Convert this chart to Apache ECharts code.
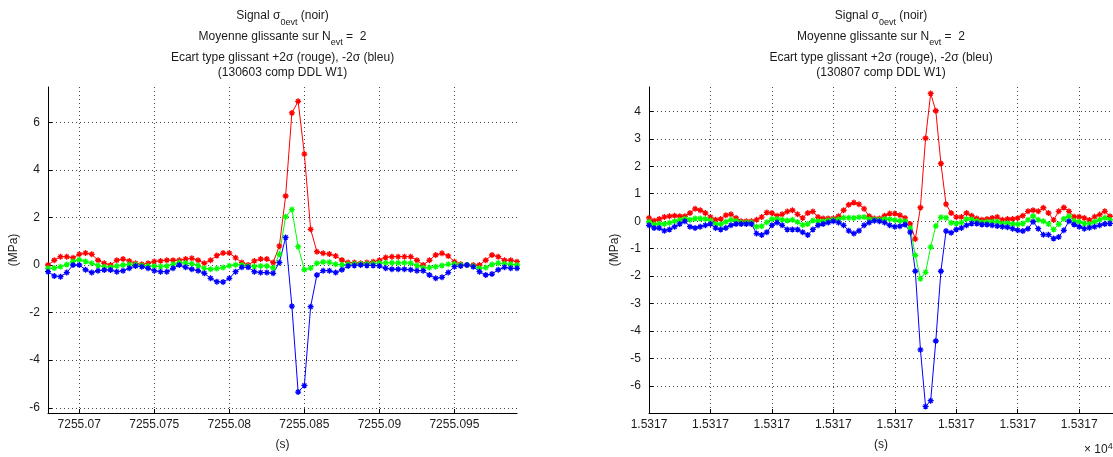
<!DOCTYPE html>
<html><head><meta charset="utf-8">
<script src="https://cdn.jsdelivr.net/npm/echarts@6/dist/echarts.min.js"></script>
<style>html,body{margin:0;padding:0;background:#fff}#c{width:1113px;height:457px}</style>
</head><body><div id="c"></div>
<script>
// ---------------- data ----------------
const sampleDt = 1 / 2400;            // sampling step (s)
const leftT0 = 7255.06792;            // first sample time, left panel (s)
const rightT0 = 15317.0;              // first sample time, right panel (s)

const leftRed = [0.0,0.2,0.35,0.35,0.3,0.45,0.5,0.45,0.2,0.07,
  0.0,0.2,0.25,0.17,0.07,0.03,0.07,0.15,0.17,0.2,
  0.2,0.2,0.25,0.28,0.2,0.07,0.2,0.4,0.5,0.5,
  0.3,0.1,0.0,0.17,0.25,0.25,0.1,0.8,2.9,6.39,
  6.88,4.66,1.5,0.56,0.49,0.46,0.38,0.21,0.1,0.1,
  0.07,0.1,0.14,0.2,0.32,0.35,0.35,0.35,0.35,0.2,
  0.0,0.2,0.42,0.49,0.38,0.14,0.03,0.0,0.0,0.0,
  0.2,0.42,0.35,0.2,0.2,0.14];
const leftGreen = [-0.14,-0.13,-0.07,0.02,0.15,0.22,0.15,0.07,-0.02,-0.07,
  -0.1,-0.04,0.0,0.02,0.02,-0.02,-0.04,-0.05,-0.06,-0.04,
  0.03,0.1,0.08,0.05,-0.02,-0.14,-0.18,-0.15,-0.11,-0.03,
  0.01,0.0,-0.05,-0.06,-0.04,-0.04,-0.13,0.45,2.03,2.33,
  0.77,-0.2,-0.13,0.07,0.13,0.11,0.03,0.01,0.03,0.04,
  0.04,0.04,0.06,0.08,0.09,0.09,0.09,0.09,0.08,-0.02,
  -0.12,-0.11,-0.07,-0.02,0.03,0.04,0.0,0.0,-0.04,-0.14,
  -0.11,0.02,0.08,0.05,0.03,0.0];
const leftBlue = [-0.28,-0.46,-0.49,-0.32,0.0,0.0,-0.2,-0.32,-0.24,-0.21,
  -0.21,-0.28,-0.24,-0.14,-0.04,-0.07,-0.14,-0.24,-0.28,-0.28,
  -0.14,0.0,-0.1,-0.18,-0.24,-0.35,-0.56,-0.7,-0.72,-0.56,
  -0.28,-0.1,-0.1,-0.28,-0.32,-0.32,-0.35,0.1,1.16,-1.73,
  -5.34,-5.06,-1.75,-0.42,-0.24,-0.24,-0.32,-0.2,-0.04,-0.02,
  0.0,-0.02,-0.02,-0.04,-0.14,-0.18,-0.18,-0.18,-0.2,-0.24,
  -0.24,-0.42,-0.56,-0.52,-0.32,-0.07,-0.04,0.0,-0.07,-0.28,
  -0.42,-0.38,-0.2,-0.1,-0.14,-0.14];

const rightRed = [0.12,0.02,0.08,0.15,0.18,0.2,0.18,0.18,0.3,0.45,
  0.4,0.3,0.15,0.05,0.08,0.22,0.25,0.12,0.0,0.0,
  0.0,0.05,0.15,0.32,0.3,0.2,0.25,0.35,0.4,0.25,
  0.12,0.3,0.35,0.15,0.1,0.1,0.1,0.18,0.4,0.6,
  0.68,0.62,0.45,0.18,0.1,0.1,0.2,0.28,0.28,0.22,
  0.12,-0.1,-0.65,0.5,3.02,4.65,4.02,2.1,0.62,0.3,
  0.15,0.15,0.3,0.2,0.1,0.05,0.08,0.12,0.15,0.05,
  0.08,0.08,0.12,0.2,0.36,0.4,0.36,0.49,0.3,0.04,
  0.36,0.5,0.36,0.16,0.16,0.12,0.04,0.16,0.24,0.36,
  0.18];
const rightGreen = [-0.02,-0.12,-0.09,-0.1,-0.06,0.0,0.04,0.09,0.05,0.1,
  0.1,0.08,0.03,-0.1,-0.11,-0.02,0.05,0.01,-0.05,-0.05,
  -0.05,-0.2,-0.18,-0.04,0.08,0.08,0.05,0.03,0.05,-0.03,
  -0.14,-0.1,0.03,0.0,0.0,0.03,0.05,0.07,0.13,0.13,
  0.12,0.14,0.15,0.07,0.06,0.05,0.08,0.07,0.04,0.02,
  0.0,-0.25,-1.24,-2.09,-1.86,-0.94,-0.17,0.14,0.13,-0.06,
  -0.08,-0.05,0.08,0.06,0.01,-0.04,-0.02,-0.02,-0.01,-0.08,
  -0.07,-0.1,-0.11,-0.08,0.05,0.19,0.05,0.0,-0.1,-0.3,
  -0.11,0.09,0.18,0.02,-0.02,-0.08,-0.1,-0.02,0.05,0.13,
  0.05];
const rightBlue = [-0.15,-0.25,-0.25,-0.35,-0.3,-0.2,-0.1,0.0,-0.2,-0.25,
  -0.2,-0.15,-0.1,-0.25,-0.3,-0.25,-0.15,-0.1,-0.1,-0.1,
  -0.1,-0.45,-0.5,-0.4,-0.15,-0.05,-0.15,-0.3,-0.3,-0.3,
  -0.4,-0.5,-0.3,-0.15,-0.1,-0.05,0.0,-0.05,-0.15,-0.35,
  -0.45,-0.35,-0.15,-0.05,0.02,0.0,-0.05,-0.15,-0.2,-0.18,
  -0.12,-0.4,-1.82,-4.68,-6.74,-6.53,-4.36,-1.82,-0.36,-0.42,
  -0.3,-0.25,-0.15,-0.08,-0.08,-0.12,-0.12,-0.15,-0.17,-0.2,
  -0.22,-0.27,-0.33,-0.36,-0.27,-0.02,-0.27,-0.49,-0.49,-0.63,
  -0.57,-0.33,0.0,-0.12,-0.2,-0.27,-0.24,-0.2,-0.15,-0.1,
  -0.08];

const titleLines = ['Signal σ{sub|0evt} (noir)', 'Moyenne glissante sur N{sub|evt} =  2',
  'Ecart type glissant +2σ (rouge), -2σ (bleu)'];
const leftId = '(130603 comp DDL W1)';
const rightId = '(130807 comp DDL W1)';
const yName = '(MPa)', xName = '(s)';

// ---------------- chart ----------------
const FONT = '"Liberation Sans", Arial, Helvetica, sans-serif';
const TXT = '#1a1a1a';
const L = {left: 48, right: 517, top: 87, bottom: 413};
const R = {left: 649, right: 1113, top: 87, bottom: 413};
const star = 'path://M5,0L5,10M0,5L10,5M1.6,1.6L8.4,8.4M8.4,1.6L1.6,8.4';

function pts(t0, arr) { return arr.map((v, i) => [t0 + i * sampleDt, v]); }

function mkSeries(xi, t0, r, g, b) {
  const cols = [['#ff0000', r], ['#00ff00', g], ['#0000ff', b]];
  return cols.map(([c, d]) => ({
    type: 'line', xAxisIndex: xi, yAxisIndex: xi, data: pts(t0, d),
    symbol: star, symbolSize: 6, showSymbol: true,
    lineStyle: {color: c, width: 1}, itemStyle: {color: c, borderColor: c, borderWidth: 1.3},
    animation: false, silent: true, clip: true
  }));
}

const axisCommon = {
  axisLine: {show: true, onZero: false, lineStyle: {color: '#000', width: 1}},
  axisTick: {show: true, inside: true, length: 4, lineStyle: {color: '#000'}},
  splitLine: {show: true, showMinLine: false, showMaxLine: false, lineStyle: {color: '#444', type: [1, 3], width: 1}},
  nameTextStyle: {color: TXT, fontSize: 12, fontFamily: FONT},
};
function lab(extra) { return Object.assign({color: TXT, fontSize: 12, fontFamily: FONT, showMinLabel: false, showMaxLabel: false}, extra); }

function titleGraphics(cx, idLine) {
  const ys = [16, 36.5, 58];
  const g = titleLines.map((t, k) => ({
    type: 'text', x: cx, y: ys[k], silent: true,
    style: {text: t, fill: TXT, font: '12px ' + FONT, align: 'center', verticalAlign: 'middle', lineHeight: 22,
      rich: {sub: {fontSize: 9, fontFamily: FONT, lineHeight: 22, verticalAlign: 'bottom', fill: TXT}}}
  }));
  g.push({type: 'text', x: cx, y: 73, silent: true,
    style: {text: idLine, fill: TXT, font: '12px ' + FONT, align: 'center', verticalAlign: 'middle'}});
  return g;
}

const chart = echarts.init(document.getElementById('c'), null, {renderer: 'canvas'});
chart.setOption({
  animation: false,
  backgroundColor: '#fff',
  grid: [
    {left: L.left, top: L.top, width: L.right - L.left, height: L.bottom - L.top, outerBoundsMode: 'none'},
    {left: R.left, top: R.top, width: R.right - R.left, height: R.bottom - R.top, outerBoundsMode: 'none'}
  ],
  xAxis: [
    Object.assign({}, axisCommon, {type: 'value', gridIndex: 0, min: leftT0, max: leftT0 + (leftRed.length - 1) * sampleDt,
      splitNumber: 6, name: xName, nameLocation: 'middle', nameGap: 26,
      axisLabel: lab({margin: 6, formatter: v => String(parseFloat(v.toFixed(4)))})}),
    Object.assign({}, axisCommon, {type: 'value', gridIndex: 1, min: rightT0, max: rightT0 + 90.6 * sampleDt,
      interval: 0.005, name: xName, nameLocation: 'middle', nameGap: 26,
      axisLabel: lab({margin: 6, showMinLabel: true, formatter: v => (v / 1e4).toFixed(4)})})
  ],
  yAxis: [
    Object.assign({}, axisCommon, {type: 'value', gridIndex: 0, min: -6.22, max: 7.48, splitNumber: 7,
      name: yName, nameLocation: 'middle', nameGap: 28, axisLabel: lab({margin: 8})}),
    Object.assign({}, axisCommon, {type: 'value', gridIndex: 1, min: -6.98, max: 4.885, splitNumber: 12,
      name: yName, nameLocation: 'middle', nameGap: 28, axisLabel: lab({margin: 8})})
  ],
  graphic: titleGraphics((L.left + L.right) / 2, leftId)
    .concat(titleGraphics((R.left + R.right) / 2, rightId))
    .concat([{type: 'text', x: 1084, y: 450, silent: true,
      style: {text: '× 10{sup|4}', fill: TXT, font: '12px ' + FONT, align: 'left', verticalAlign: 'middle', lineHeight: 16,
        rich: {sup: {fontSize: 9, fontFamily: FONT, lineHeight: 16, verticalAlign: 'top', fill: TXT}}}}]),
  series: mkSeries(0, leftT0, leftRed, leftGreen, leftBlue)
    .concat(mkSeries(1, rightT0, rightRed, rightGreen, rightBlue))
});
</script></body></html>
